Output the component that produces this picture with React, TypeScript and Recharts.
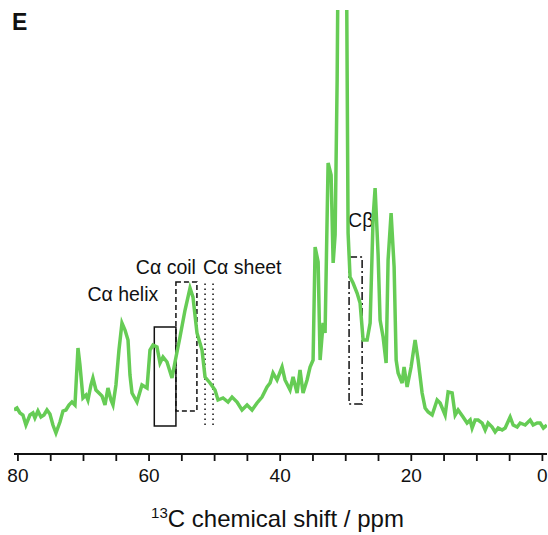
import React from 'react';
import { LineChart, Line, XAxis, YAxis, ReferenceArea, ReferenceLine } from 'recharts';

const FONT = '"Liberation Sans", Arial, Helvetica, sans-serif';

const ppmValues = [
  80.61, 80.15, 79.69, 79.24, 78.78, 78.17, 77.71, 77.41, 76.95, 76.49, 76.03, 75.57, 75.12, 74.66, 74.2,
  73.59, 73.13, 72.68, 72.22, 71.76, 71.3, 70.84, 70.54, 70.08, 69.62, 69.32, 68.86, 68.56, 68.1, 67.64,
  67.18, 66.72, 66.27, 65.81, 65.5, 65.05, 64.59, 64.13, 63.67, 63.21, 62.91, 62.6, 61.84, 61.08, 60.31,
  59.86, 59.4, 58.79, 58.33, 57.87, 57.26, 56.5, 56.04, 55.28, 54.51, 53.75, 53.3, 52.69, 51.92, 51.46,
  50.7, 49.94, 49.48, 48.72, 47.95, 47.34, 46.58, 45.82, 45.05, 44.29, 43.53, 42.77, 42.0, 41.54, 41.09,
  40.48, 39.71, 39.26, 38.49, 38.03, 37.42, 36.97, 36.51, 35.9, 35.44, 34.98, 34.67, 34.21, 33.91, 33.45,
  33.15, 32.69, 32.23, 31.92, 31.62, 31.31, 30.86, 30.4, 29.94, 29.64, 29.34, 28.88, 28.27, 27.81, 27.35,
  26.74, 26.28, 25.82, 25.52, 25.06, 24.76, 24.3, 23.84, 23.54, 23.08, 22.62, 22.31, 22.01, 21.4, 21.1,
  20.64, 20.03, 19.42, 18.96, 18.35, 17.89, 17.43, 16.82, 16.06, 15.6, 14.84, 14.38, 13.77, 13.31, 12.86,
  12.1, 11.49, 11.02, 10.72, 10.26, 9.8, 9.19, 8.73, 8.28, 7.67, 7.21, 6.75, 6.14, 5.68, 4.92,
  4.46, 3.85, 3.39, 2.63, 1.87, 1.41, 0.8, 0.34, -0.15, -0.68,
];

const intensityValues = [
  44, 46, 41, 39, 29, 39, 41, 36, 43, 37, 39, 44, 40, 29, 21,
  32, 43, 44, 49, 52, 49, 106, 89, 56, 59, 54, 69, 76, 64, 61,
  58, 49, 66, 54, 49, 69, 104, 131, 124, 114, 79, 61, 52, 69, 66,
  104, 109, 107, 91, 97, 92, 76, 92, 117, 144, 166, 157, 121, 104, 77,
  71, 64, 54, 56, 52, 57, 52, 44, 49, 44, 51, 57, 67, 71, 81,
  74, 87, 74, 64, 77, 61, 84, 61, 74, 87, 94, 207, 192, 94, 131,
  121, 291, 279, 191, 219, 374, 754, 954, 554, 221, 177, 171, 161, 151, 114,
  114, 131, 237, 266, 199, 134, 117, 91, 194, 241, 187, 94, 81, 71, 87,
  67, 87, 114, 94, 61, 46, 42, 39, 54, 51, 39, 62, 61, 39, 44,
  37, 31, 34, 26, 34, 34, 31, 24, 31, 27, 22, 26, 24, 26, 37,
  29, 27, 31, 29, 34, 29, 31, 31, 26, 29,
];

const xTicks = [80, 75, 70, 65, 60, 55, 50, 45, 40, 35, 30, 25, 20, 15, 10, 5, 0];

// region boxes: [ppm from, ppm to, intensity low, intensity high]
const helixBox = [59.2, 55.9, 28, 127];
const coilBox = [55.9, 52.7, 43, 172];
const sheetBox = [51.46, 50.24, 29, 172];
const betaBox = [29.49, 27.5, 50, 197];

const data = ppmValues.map((p, i) => ({ ppm: p, intensity: intensityValues[i] }));

const labelText = (text: string, dx: number, dy: number, anchor: string, useRight = false) =>
  (props: any) => {
    const vb = props.viewBox || {};
    const x = (useRight ? vb.x + vb.width : vb.x) + dx;
    const y = vb.y + dy;
    return (
      <text x={x} y={y} textAnchor={anchor} fontSize={19.5} fontFamily={FONT} fill="#111">
        {text}
      </text>
    );
  };

const AxisTitle = (props: any) => {
  const vb = props.viewBox || {};
  const cx = vb.x + vb.width / 2 - 3;
  return (
    <text x={cx} y={527} textAnchor="middle" fontSize={24} fontFamily={FONT} fill="#111">
      <tspan fontSize={15} dy={-9}>13</tspan>
      <tspan dy={9}>C chemical shift / ppm</tspan>
    </text>
  );
};

export default function App() {
  return (
    <div style={{ position: 'absolute', left: 0, top: 0, width: 548, height: 535, background: '#fff' }}>
      <div
        style={{
          position: 'absolute',
          left: 12,
          top: 8,
          fontFamily: FONT,
          fontWeight: 'bold',
          fontSize: 23,
          lineHeight: '28px',
          color: '#111',
        }}
      >
        E
      </div>
      <LineChart width={548} height={535} data={data} margin={{ top: 10, right: 1, bottom: 41, left: 14 }}>
        <XAxis
          type="number"
          dataKey="ppm"
          domain={[-0.7, 80.6]}
          reversed
          allowDataOverflow
          ticks={xTicks}
          interval={0}
          tickFormatter={(v: number) => (v % 20 === 0 ? String(v) : '')}
          tickSize={7}
          tickMargin={8}
          height={40}
          axisLine={{ stroke: '#111', strokeWidth: 1.8 }}
          tickLine={{ stroke: '#111', strokeWidth: 1.8 }}
          tick={{ fontSize: 19, fontFamily: FONT, fill: '#111' }}
          label={AxisTitle}
        />
        <YAxis type="number" hide domain={[0, 444]} allowDataOverflow />
        <ReferenceArea
          x1={helixBox[0]}
          x2={helixBox[1]}
          y1={helixBox[2]}
          y2={helixBox[3]}
          fill="none"
          fillOpacity={0}
          stroke="#111"
          strokeWidth={1.5}
          label={labelText('Cα helix', 4, -26, 'end')}
        />
        <ReferenceArea
          x1={coilBox[0]}
          x2={coilBox[1]}
          y1={coilBox[2]}
          y2={coilBox[3]}
          fill="none"
          fillOpacity={0}
          stroke="#111"
          strokeWidth={1.5}
          strokeDasharray="5 3"
          label={labelText('Cα coil', -1, -8, 'end', true)}
        />
        <ReferenceArea
          x1={sheetBox[0]}
          x2={sheetBox[1]}
          y1={sheetBox[2]}
          y2={sheetBox[3]}
          fill="none"
          fillOpacity={0}
          stroke="none"
          label={labelText('Cα sheet', -2, -8, 'start')}
        />
        <ReferenceLine
          segment={[{ x: sheetBox[0], y: sheetBox[2] }, { x: sheetBox[0], y: sheetBox[3] }]}
          stroke="#111"
          strokeWidth={1.5}
          strokeDasharray="1.5 3.5"
        />
        <ReferenceLine
          segment={[{ x: sheetBox[1], y: sheetBox[2] }, { x: sheetBox[1], y: sheetBox[3] }]}
          stroke="#111"
          strokeWidth={1.5}
          strokeDasharray="1.5 3.5"
        />
        <ReferenceArea
          x1={betaBox[0]}
          x2={betaBox[1]}
          y1={betaBox[2]}
          y2={betaBox[3]}
          fill="none"
          fillOpacity={0}
          stroke="#111"
          strokeWidth={1.5}
          strokeDasharray="8 3 2 3"
          label={labelText('Cβ', -1, -30, 'start')}
        />
        <Line
          type="linear"
          dataKey="intensity"
          stroke="#66CC55"
          strokeWidth={3.5}
          dot={false}
          isAnimationActive={false}
        />
      </LineChart>
    </div>
  );
}
